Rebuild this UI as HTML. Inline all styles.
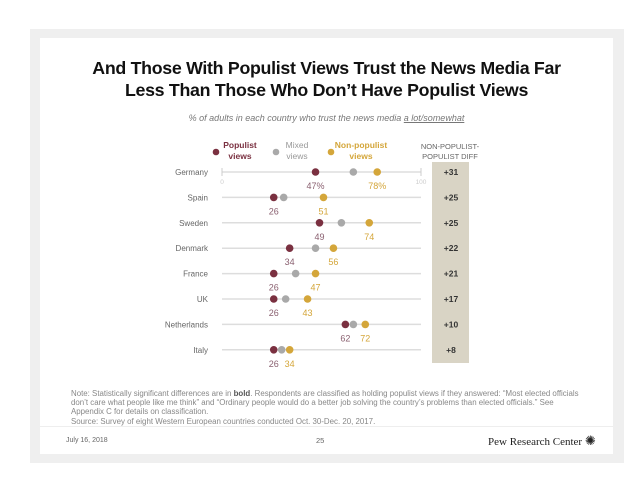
<!DOCTYPE html>
<html><head><meta charset="utf-8"><style>
body{margin:0;width:638px;height:493px;background:#fff;position:relative;overflow:hidden;font-family:"Liberation Sans",sans-serif}
.abs{position:absolute}
</style></head><body>
<div class="abs" style="left:30px;top:29px;width:594px;height:434px;background:#efefef"></div>
<div class="abs" style="left:40px;top:38px;width:573px;height:416px;background:#fff"></div>
<div class="abs" style="left:30px;top:57px;width:593px;text-align:center;font-weight:bold;font-size:17.8px;line-height:22px;color:#111;letter-spacing:-0.3px">And Those With Populist Views Trust the News Media Far<br>Less Than Those Who Don’t Have Populist Views</div>
<div class="abs" style="left:40px;top:113px;width:573px;text-align:center;font-style:italic;font-size:9px;color:#777">% of adults in each country who trust the news media <span style="text-decoration:underline">a lot/somewhat</span></div>
<div class="abs" style="left:71px;top:389px;width:560px;font-size:7.9px;line-height:9.2px;color:#888;white-space:nowrap">Note: Statistically significant differences are in <b style="color:#555">bold</b>. Respondents are classified as holding populist views if they answered: “Most elected officials<br>don’t care what people like me think” and “Ordinary people would do a better job solving the country’s problems than elected officials.” See<br>Appendix C for details on classification.<br>Source: Survey of eight Western European countries conducted Oct. 30-Dec. 20, 2017.</div>
<div class="abs" style="left:40px;top:426px;width:573px;height:1px;background:#eee"></div>
<div class="abs" style="left:66px;top:437px;font-size:7px;color:#666">July 16, 2018</div>
<div class="abs" style="left:316px;top:436px;font-size:7.5px;color:#666">25</div>
<div class="abs" style="left:488px;top:433px;font-family:'Liberation Serif',serif;font-size:11px;color:#222">Pew Research Center <span style="font-size:13px">✺</span></div>
<svg class="abs" style="left:0;top:0" width="638" height="493" id="chart"></svg>
<script>
const countries=["Germany","Spain","Sweden","Denmark","France","UK","Netherlands","Italy"];
const populist=[47,26,49,34,26,26,62,26];
const mixed=[66,31,60,47,37,32,66,30];
const nonPopulist=[78,51,74,56,47,43,72,34];
const diffs=["+31","+25","+25","+22","+21","+17","+10","+8"];
const x0=222,x1=421,y0=172,rowH=25.4;
const xs=v=>x0+(x1-x0)*v/100;
const ys=i=>y0+i*rowH;
const svg=document.getElementById('chart');
const NS="http://www.w3.org/2000/svg";
function mk(t,a,txt){const e=document.createElementNS(NS,t);for(const k in a)e.setAttribute(k,a[k]);if(txt!==undefined)e.textContent=txt;svg.appendChild(e);return e;}
const C={p:"#7a3040",m:"#a9a9a9",n:"#d4a63a"};
let e;
e=mk('rect',{x:432,y:162,width:37,height:201,fill:"#d9d4c5"});


e=mk('text',{x:450,y:149,'text-anchor':'middle','font-size':7.5,fill:'#666'},"NON-POPULIST-");


mk('text',{x:450,y:159,'text-anchor':'middle','font-size':7.5,fill:'#666'},"POPULIST DIFF");
const leg=[["Populist","views",C.p,216,240],["Mixed","views","#999",276,297],["Non-populist","views",C.n,331,361]];
leg.forEach(l=>{
 e=mk('circle',{cx:l[3],cy:152,r:3.3,fill:l[2]===("#999")?C.m:l[2]});
 
 
 e=mk('text',{x:l[4],y:148,'text-anchor':'middle','font-size':8.5,'font-weight':l[2]==="#999"?'normal':'bold',fill:l[2]},l[0]);
 
 
 mk('text',{x:l[4],y:159,'text-anchor':'middle','font-size':8.5,'font-weight':l[2]==="#999"?'normal':'bold',fill:l[2]},l[1]);
});
countries.forEach((c,i)=>{
 const y=ys(i);
 e=mk('line',{x1:x0,x2:x1,y1:y,y2:y,stroke:'#ddd','stroke-width':1.5});
 
 
 if(i===0){mk('line',{x1:x0,x2:x0,y1:y-4,y2:y+4,stroke:'#ccc'});mk('line',{x1:x1,x2:x1,y1:y-4,y2:y+4,stroke:'#ccc'});
  mk('text',{x:x0,y:y+12,'text-anchor':'middle','font-size':6.5,fill:'#ccc'},"0");
  mk('text',{x:x1,y:y+12,'text-anchor':'middle','font-size':6.5,fill:'#ccc'},"100");}
 e=mk('text',{x:208,y:y+3,'text-anchor':'end','font-size':8,fill:'#666'},c);
 
 
 e=mk('circle',{cx:xs(mixed[i]),cy:y,r:3.8,fill:C.m});
 
 
 e=mk('circle',{cx:xs(populist[i]),cy:y,r:3.8,fill:C.p});
 
 
 e=mk('circle',{cx:xs(nonPopulist[i]),cy:y,r:3.8,fill:C.n});
 
 
 e=mk('text',{x:xs(populist[i]),y:y+17,'text-anchor':'middle','font-size':9,fill:'#8a6070'},populist[i]+(i===0?"%":""));
 
 
 e=mk('text',{x:xs(nonPopulist[i]),y:y+17,'text-anchor':'middle','font-size':9,fill:'#d4a63a'},nonPopulist[i]+(i===0?"%":""));
 
 
 e=mk('text',{x:451,y:y+3,'text-anchor':'middle','font-size':8.5,'font-weight':'bold',fill:'#333'},diffs[i]);
 
 
});
</script>
</body></html>
